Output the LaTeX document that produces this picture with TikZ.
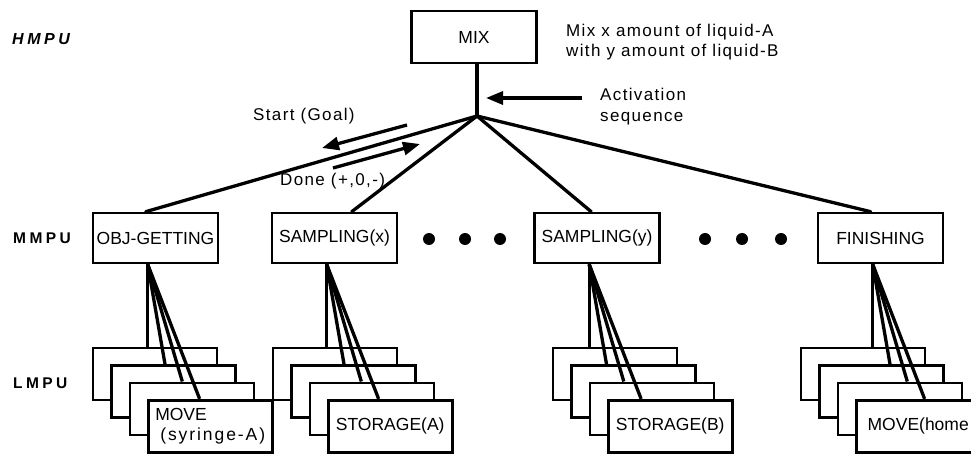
\documentclass[tikz,border=0pt]{standalone}
\usepackage{fontspec}
\setmainfont{Liberation Sans}
\newfontfamily\lblfont{Liberation Sans}[LetterSpace=22]
\newfontfamily\notefont{Liberation Sans}[LetterSpace=8]
\newfontfamily\widefont{Liberation Sans}[LetterSpace=11]
\usetikzlibrary{calc,arrows.meta}
\begin{document}
\begin{tikzpicture}[x=1pt,y=-1pt,
  box/.style={draw,line width=2.6pt,fill=white,inner sep=0pt,font=\fontsize{17.5}{20}\selectfont},
  mbox/.style={box,minimum width=125pt,minimum height=50pt},
  lbox/.style={box,minimum width=124pt,minimum height=52pt},
  conn/.style={line width=3.3pt},
  sig/.style={line width=3.3pt,-{Triangle[length=17pt,width=13pt]}},
  note/.style={font=\notefont\fontsize{17}{20.5}\selectfont,inner sep=0pt,anchor=west,align=left},
  lvl/.style={font=\lblfont\bfseries\fontsize{15.5}{18}\selectfont,inner sep=0pt,anchor=west},
  dot/.style={circle,fill=black,minimum size=12pt,inner sep=0pt}]
\useasboundingbox (0,0) rectangle (971,454);
\clip (0,0) rectangle (971,454);

% level labels
\node[lvl,font=\lblfont\bfseries\itshape\fontsize{16}{18}\selectfont] (hmpu) at (12,39) {HMPU};
\node[lvl] (mmpu) at (13,238) {MMPU};
\node[lvl] (lmpu) at (13,383) {LMPU};

% top level
\node[mbox,minimum height=52pt] (mix) at (474,37) {MIX};
\node[note] (mixnote) at (566,42) {Mix x amount of liquid-A\\with y amount of liquid-B};
\coordinate (jn) at (477,116);

% middle level
\node[mbox] (obj) at (155.5,238) {OBJ-GETTING};
\node[mbox] (sx) at (334.5,238) {SAMPLING(x)};
\node[mbox] (sy) at (597,238) {SAMPLING(y)};
\node[mbox] (fin) at (880.5,238) {FINISHING};

\draw[conn] (mix.south -| jn) -- (jn);
\draw[conn,line cap=round] (jn) -- ($(obj.north west)+(54,0)$);
\draw[conn,line cap=round] (jn) -- ($(sx.north west)+(81,0)$);
\draw[conn,line cap=round] (jn) -- ($(sy.north west)+(58,0)$);
\draw[conn,line cap=round] (jn) -- ($(fin.north west)+(54,0)$);

% activation sequence
\coordinate (acttail) at (582,98);
\draw[sig,shorten >=9pt] (acttail) -- (acttail -| jn);
\node[note] (act) at (600,106.5) {Activation\\sequence};

% start / done signals
\node[note] (start) at (253,116) {Start (Goal)};
\coordinate (s1) at (407,125);
\coordinate (s2) at (322,148);
\draw[sig] (s1) -- (s2);
\node[note] (done) at (280,181) {Done (+,0,-)};
\coordinate (d1) at (333,168);
\coordinate (d2) at (420,144);
\draw[sig] (d1) -- (d2);

% dots
\foreach \x [count=\i] in {429,465,500,705,742,781}
  \node[dot] (dot\i) at (\x,239) {};

% low level stacks
\foreach \s/\lx in {obj/93, sx/273, sy/553, fin/801} {
  \foreach \k in {0,1,2} {
    \node[lbox] (\s-l\k) at ({\lx+62+18.4*\k},{374+17.4*\k}) {};
  }
}
\node[lbox,align=left] (obj-l3) at (210.2,426.2) {MOVE\\\hspace*{5pt}{\widefont (syringe-A)}};
\node[lbox] (sx-l3) at (390.2,426.2) {STORAGE(A)};
\node[lbox] (sy-l3) at (670.2,426.2) {STORAGE(B)};
\node[lbox] (fin-l3) at (918.2,426.2) {MOVE(home};

\foreach \s in {obj,sx,sy,fin} {
  \coordinate (\s-apex) at ($(\s.south west)+(56,0)$);
  \foreach \k in {0,1,2,3}
    \draw[conn] (\s-apex) -- ($(\s-apex |- \s-l\k.north)+({17.3*\k},0)$);
}
\end{tikzpicture}
\end{document}
